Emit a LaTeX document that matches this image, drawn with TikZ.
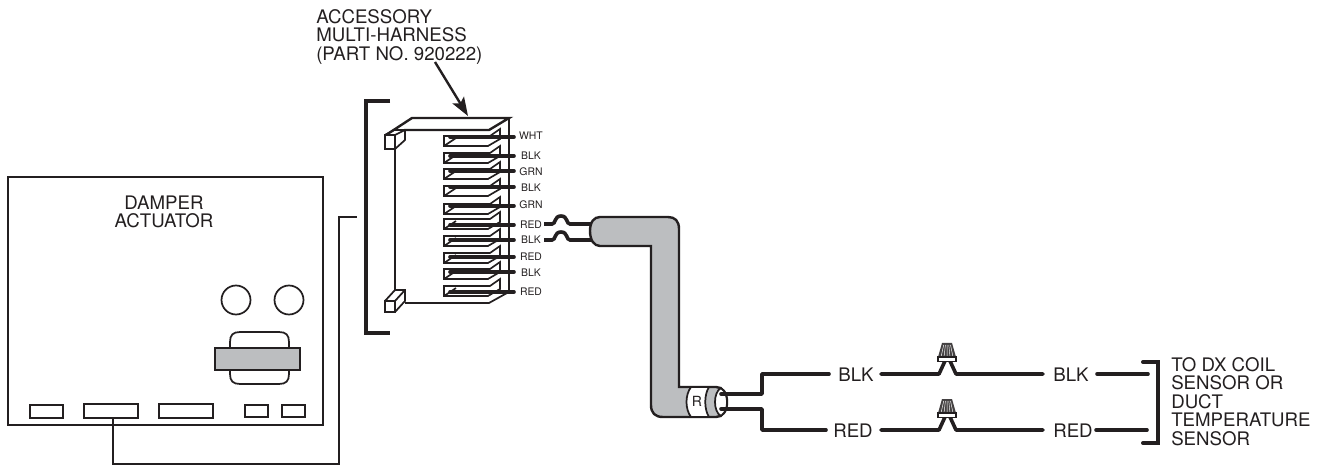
\documentclass[tikz,border=0pt]{standalone}
\usepackage{fontspec}
\setmainfont{TeX Gyre Heros}
\usetikzlibrary{arrows.meta}
\definecolor{ink}{HTML}{231F20}
\definecolor{cablegray}{HTML}{BCBEC0}
\tikzset{
  x=0.75pt,y=-0.75pt,
  thin line/.style={line width=1.3pt},
  mid line/.style={line width=1.8pt},
  slot line/.style={line width=1.25pt},
  wire/.style={line width=2.7pt},
  lbl/.style={inner sep=0pt,text=ink,font=\fontsize{14pt}{13.9pt}\selectfont,align=left},
  sm/.style={inner sep=0pt,text=ink,font=\fontsize{7.8pt}{7.8pt}\selectfont},
}
\newcommand{\slotdraw}[2]{%
  \draw[slot line,fill=white] (444,#1) -- (490,#1) -- (500,#1-7) -- (500,#1+3) -- (488,#1+10) -- (444,#1+10) -- cycle;
  \draw[slot line] (444,#1+10) -- (456,#1+2);
  \coordinate (ws#1) at (450,#2); \coordinate (we#1) at (514,#2);
  \draw[wire,line cap=round] (ws#1) -- (we#1);
}
\newcommand{\nutdraw}[1]{%
  \draw[wire,line join=round,line cap=round] (881,#1) -- (939,#1) -- (945,#1-13);
  \draw[wire,line join=round,line cap=round] (950,#1-13) -- (956,#1) -- (1043,#1);
  \fill[ink!85] (942,#1-31) -- (952,#1-31) -- (956,#1-17) -- (938,#1-17) -- cycle;
  \foreach \k in {1,2,3,4,5} {\draw[white,line width=.35pt] (942+\k*1.7,#1-29) -- (938+\k*3,#1-17);}
  \draw[line width=.8pt,fill=white] (938,#1-17) rectangle (956,#1-12.5);
}
\begin{document}
\begin{tikzpicture}[color=ink]
\useasboundingbox (0,0) rectangle (1320,466);
% actuator
\coordinate (acta) at (8,177); \coordinate (actb) at (323,425);
\draw[mid line] (acta) rectangle (actb);
\node[lbl,align=center] (actl) at (164,212) {DAMPER\\ACTUATOR};
\draw[thin line] (236,300) circle (14.5);
\draw[thin line] (289,300) circle (14.5);
\draw[thin line] (230,348) -- (230,342) .. controls (230,335) and (233,332) .. (240,332) -- (279,332) .. controls (286,332) and (289,335) .. (289,342) -- (289,374) .. controls (289,381) and (286,384) .. (279,384) -- (240,384) .. controls (233,384) and (230,381) .. (230,374) -- cycle;
\draw[mid line,fill=cablegray] (215,348) rectangle (300,370);
\draw[thin line] (30,405) rectangle (63,418);
\draw[thin line] (84,404) rectangle (138,418);
\draw[thin line] (159,404) rectangle (213,418);
\draw[thin line] (245,405) rectangle (268,417);
\draw[thin line] (282,405) rectangle (305,417);
\coordinate (p1) at (113,418); \coordinate (p2) at (357,217);
\draw[mid line] (p1) -- (113,464) -- (339,464) -- (339,217) -- (p2);
% bracket
\draw[line width=3pt] (390,101) -- (366,101) -- (366,333) -- (390,333);
% connector body
\draw[mid line] (509,118) -- (509,293);
\draw[thin line] (395,150) -- (395,290);
\draw[mid line] (386,135) -- (412,118) -- (509,118) -- (489,130) -- (404,130);
\draw[thin line,fill=white] (385,135) rectangle (395,149);
\draw[thin line] (385,135) -- (394,130) -- (405,130) -- (405,140) -- (395,149);
\draw[thin line] (395,135) -- (405,130);
\draw[thin line,fill=white] (385,301) rectangle (395,312);
\draw[thin line] (385,301) -- (395,290) -- (405,290) -- (405,301) -- (395,312);
\draw[thin line] (395,301) -- (405,290);
\draw[thin line] (405,303) -- (489,303) -- (507,293);
\slotdraw{136}{137}
\slotdraw{153}{156}
\slotdraw{169}{171}
\slotdraw{186}{187}
\slotdraw{204}{206}
\slotdraw{219}{225}
\slotdraw{236}{240}
\slotdraw{253}{257}
\slotdraw{269}{272}
\slotdraw{286}{292}
\node[sm] (l1) at (531,136) {WHT};
\node[sm] (l2) at (531,156) {BLK};
\node[sm] (l3) at (531,172) {GRN};
\node[sm] (l4) at (531,188) {BLK};
\node[sm] (l5) at (531,205) {GRN};
\node[sm] (l6) at (531,225) {RED};
\node[sm] (l7) at (531,240) {BLK};
\node[sm] (l8) at (531,257) {RED};
\node[sm] (l9) at (531,273) {BLK};
\node[sm] (l10) at (531,292) {RED};
% callout
\node[lbl,anchor=north west] (acc) at (316,9) {ACCESSORY\\MULTI-HARNESS\\(PART NO. 920222)};
\coordinate (arrs) at (435,62); \coordinate (arrtip) at (468,116);
\draw[line width=1.8pt,-{Stealth[length=14pt,width=10pt,inset=3pt]}] (arrs) -- (arrtip);
% jumper wires
\draw[wire] (544,224) -- (552,224) .. controls (556,224) and (554,216) .. (561,216) .. controls (568,216) and (566,224) .. (570,224) -- (592,224);
\draw[wire] (544,240) -- (552,240) .. controls (556,240) and (554,232) .. (561,232) .. controls (568,232) and (566,240) .. (570,240) -- (592,240);
% cable
\draw[mid line,fill=cablegray] (600,217) -- (668,217) .. controls (675,217) and (679,221) .. (679,229) -- (679,387) -- (716,387) .. controls (722,387) and (727,392) .. (727,402) .. controls (727,412) and (722,417) .. (716,417) -- (663,417) .. controls (655,417) and (651,413) .. (651,405) -- (651,246) -- (600,246) .. controls (594,246) and (590,240) .. (590,231) .. controls (590,222) and (594,217) .. (600,217) -- cycle;
\draw[thin line,fill=white] (691,387) -- (709,387) .. controls (704,395) and (704,409) .. (709,417) -- (691,417) .. controls (685,409) and (685,395) .. (691,387) -- cycle;
\draw[thin line,fill=white] (721,388) .. controls (726,392) and (727,398) .. (727,402) .. controls (727,407) and (726,412) .. (721,416) .. controls (713,412) and (713,392) .. (721,388) -- cycle;
\node[lbl,font=\fontsize{10.5pt}{10.5pt}\selectfont] (rl) at (697,401) {R};
% exit wires
\draw[wire,line join=round,line cap=round] (721,394) -- (762,394) -- (762,374) -- (829,374);
\draw[wire,line join=round,line cap=round] (721,409) -- (762,409) -- (762,430) -- (826,430);
\node[lbl] (b1) at (856,375) {BLK};
\node[lbl] (r1) at (853,431) {RED};
\nutdraw{374}
\nutdraw{430}
\node[lbl] (b2) at (1071,375) {BLK};
\node[lbl] (r2) at (1073,431) {RED};
\draw[wire,line cap=round] (1097,374) -- (1148,374);
\draw[wire,line cap=round] (1096,430) -- (1147,430);
\draw[line width=3pt,line cap=round] (1143,362) -- (1158,362) -- (1158,443) -- (1143,443);
\node[lbl,anchor=north west] (to) at (1171,357) {TO DX COIL\\SENSOR OR\\DUCT\\TEMPERATURE\\SENSOR};
\end{tikzpicture}
\end{document}
